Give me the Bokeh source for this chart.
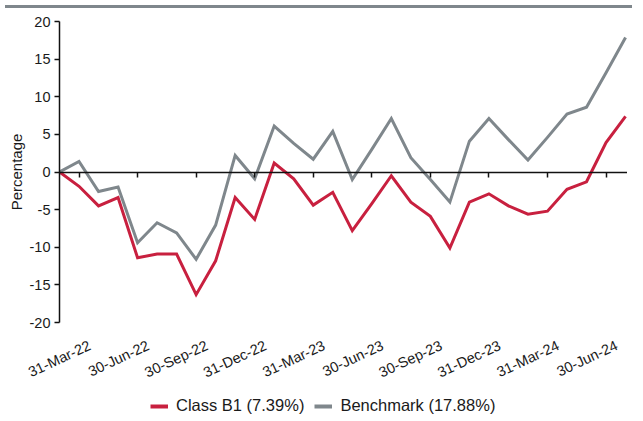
import math
from bokeh.plotting import figure
from bokeh.models import (Range1d, FixedTicker, LinearAxis, Legend, LegendItem,
                          ColumnDataSource, Div)
from bokeh.layouts import column
from bokeh.embed import file_html
from bokeh.resources import INLINE

months = ["28-Feb-22", "31-Mar-22", "30-Apr-22", "31-May-22", "30-Jun-22", "31-Jul-22",
          "31-Aug-22", "30-Sep-22", "31-Oct-22", "30-Nov-22", "31-Dec-22", "31-Jan-23",
          "28-Feb-23", "31-Mar-23", "30-Apr-23", "31-May-23", "30-Jun-23", "31-Jul-23",
          "31-Aug-23", "30-Sep-23", "31-Oct-23", "30-Nov-23", "31-Dec-23", "31-Jan-24",
          "29-Feb-24", "31-Mar-24", "30-Apr-24", "31-May-24", "30-Jun-24", "31-Jul-24"]
class_b1 = [0, -1.9, -4.5, -3.4, -11.4, -10.9, -10.9, -16.3, -11.8, -3.4, -6.3, 1.2,
            -0.9, -4.4, -2.7, -7.8, -4.2, -0.5, -4.0, -5.9, -10.1, -4.0, -2.9, -4.5,
            -5.6, -5.2, -2.3, -1.3, 3.9, 7.39]
benchmark = [0, 1.4, -2.6, -2.0, -9.4, -6.75, -8.1, -11.6, -7.05, 2.2, -0.9, 6.1,
             3.8, 1.7, 5.4, -1.0, 3.0, 7.1, 1.9, -1.0, -4.0, 4.1, 7.1, 4.3,
             1.6, 4.6, 7.7, 8.6, 13.2, 17.88]
tick_labels = ["31-Mar-22", "30-Jun-22", "30-Sep-22", "31-Dec-22", "31-Mar-23",
               "30-Jun-23", "30-Sep-23", "31-Dec-23", "31-Mar-24", "30-Jun-24"]
y_ticks = [-20, -15, -10, -5, 0, 5, 10, 15, 20]
series_names = ["Class B1 (7.39%)", "Benchmark (17.88%)"]

RED = "#c8203f"
GRAY = "#7f878c"
FONT = "Liberation Sans"
TXT = "#1a1a1a"
W = 627
LABEL_SHIFT = 0.55  # rotated label anchors sit slightly right of their ticks

idx = list(range(len(months)))
src = ColumnDataSource(dict(x=idx, b1=class_b1, bm=benchmark))
tick_pos = [months.index(t) for t in tick_labels]

p = figure(width=W, height=377, output_backend="svg", toolbar_location=None,
           x_range=Range1d(0, len(months) - 1 + 0.1), y_range=Range1d(-20, 20),
           x_axis_location=None, min_border_left=59, min_border_right=0,
           min_border_top=8, min_border_bottom=60)
p.outline_line_color = None
p.xgrid.visible = False
p.ygrid.visible = False

# y axis
yax = p.yaxis[0]
yax.ticker = FixedTicker(ticks=y_ticks)
yax.major_label_overrides = {t: str(t) for t in y_ticks}
yax.minor_tick_line_color = None
yax.major_tick_out = 5
yax.major_tick_in = 0
yax.axis_line_width = 1.5
yax.major_tick_line_width = 1.5
yax.axis_line_color = "#111111"
yax.major_tick_line_color = "#111111"
yax.major_label_text_font = FONT
yax.major_label_text_font_size = "14.5px"
yax.major_label_text_color = TXT
yax.major_label_standoff = 4
yax.axis_label = "Percentage"
yax.axis_label_text_font = FONT
yax.axis_label_text_font_size = "15px"
yax.axis_label_text_font_style = "normal"
yax.axis_label_text_color = TXT
yax.axis_label_standoff = 2

# zero line axis with ticks
zax = LinearAxis(fixed_location=0, ticker=FixedTicker(ticks=tick_pos))
zax.major_label_text_color = None
zax.major_label_standoff = 0
zax.minor_tick_line_color = None
zax.major_tick_out = 5
zax.major_tick_in = 0
zax.axis_line_width = 1.5
zax.major_tick_line_width = 1.5
zax.axis_line_color = "#111111"
zax.major_tick_line_color = "#111111"
p.add_layout(zax, "below")

# label axis at the bottom
label_pos = [t + LABEL_SHIFT for t in tick_pos]
lax = LinearAxis(ticker=FixedTicker(ticks=label_pos))
lax.major_label_overrides = {lp: months[t] for lp, t in zip(label_pos, tick_pos)}
lax.axis_line_color = None
lax.major_tick_line_color = None
lax.minor_tick_line_color = None
lax.major_label_orientation = math.radians(25)
lax.major_label_text_font = FONT
lax.major_label_text_font_size = "14.5px"
lax.major_label_text_color = TXT
lax.major_label_standoff = 16
p.add_layout(lax, "below")

p.line("x", "b1", source=src, line_color=RED, line_width=3, line_join="miter")
p.line("x", "bm", source=src, line_color=GRAY, line_width=3, line_join="miter")

# legend in its own small figure
lf = figure(width=W, height=25, output_backend="svg", toolbar_location=None,
            x_range=Range1d(0, 1), y_range=Range1d(0, 1),
            x_axis_location=None, y_axis_location=None,
            min_border_left=0, min_border_right=0, min_border_top=0, min_border_bottom=0)
lf.outline_line_color = None
lf.xgrid.visible = False
lf.ygrid.visible = False
empty = ColumnDataSource(dict(x=[float("nan")], y=[float("nan")]))
l1 = lf.line("x", "y", source=empty, line_color=RED, line_width=4)
l2 = lf.line("x", "y", source=empty, line_color=GRAY, line_width=4)
legend = Legend(items=[LegendItem(label=series_names[0], renderers=[l1]),
                       LegendItem(label=series_names[1], renderers=[l2])],
                orientation="horizontal", location=(91, 0))
legend.border_line_color = None
legend.background_fill_alpha = 0
legend.label_text_font = FONT
legend.label_text_font_size = "16.5px"
legend.label_text_color = TXT
legend.glyph_width = 18
legend.glyph_height = 12
legend.label_standoff = 8
legend.spacing = 10
legend.padding = 2
legend.margin = 0
lf.add_layout(legend, "center")

bar = Div(text="", width=W, height=3, styles={"background-color": GRAY})
layout = column(bar, p, lf, spacing=0)

open("out.html", "w").write(file_html(layout, INLINE))
